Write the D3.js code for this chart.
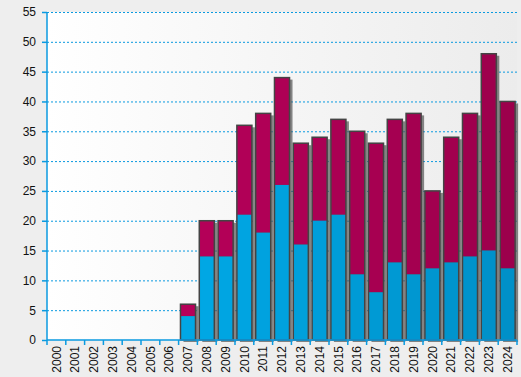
<!DOCTYPE html>
<html>
<head>
  <meta charset="UTF-8">
  <script src="https://d3js.org/d3.v7.min.js"></script>
  <style>
    body { margin: 0; background: #eeeeee; }
    text { font-family: "Liberation Sans", Arial, sans-serif; font-size: 12px; fill: #111; }
  </style>
</head>
<body>
  <svg width="521" height="377" id="chart"></svg>
  <script>
    // data
    let years = ["2000","2001","2002","2003","2004","2005","2006","2007","2008","2009","2010","2011","2012",
                 "2013","2014","2015","2016","2017","2018","2019","2020","2021","2022","2023","2024"];
    let blueVals = [0,0,0,0,0,0,0,4,14,14,21,18,26,16,20,21,11,8,13,11,12,13,14,15,12];
    let totals   = [0,0,0,0,0,0,0,6,20,20,36,38,44,33,34,37,35,33,37,38,25,34,38,48,40];
    let yTicks = [0,5,10,15,20,25,30,35,40,45,50,55];

    let margin = { top: 12, right: 4, bottom: 37, left: 47 };
    let svg = d3.select("#chart");
    let width = +svg.attr("width") - margin.left - margin.right;
    let height = +svg.attr("height") - margin.top - margin.bottom;

    let defs = svg.append("defs");
    let bg = defs.append("linearGradient").attr("id", "bg");
    bg.append("stop").attr("offset", "0%").attr("stop-color", "#ffffff");
    bg.append("stop").attr("offset", "100%").attr("stop-color", "#ececec");

    let shadow = defs.append("filter").attr("id", "shadow")
      .attr("x", "-20%").attr("y", "-20%").attr("width", "160%").attr("height", "140%");
    shadow.append("feDropShadow").attr("dx", 3).attr("dy", 2).attr("stdDeviation", 0.6)
      .attr("flood-color", "#555").attr("flood-opacity", 0.7);

    let x = d3.scaleBand().domain(years).range([0, width]).paddingInner(0.2).paddingOuter(0.1);
    let y = d3.scaleLinear().domain([0, 55]).range([height, 0]);

    let blueC = d3.scaleLinear().domain([0, years.length - 1]).range(["#00b2f2", "#0090c8"]);
    let redC = d3.scaleLinear().domain([0, years.length - 1]).range(["#c0005e", "#9c004c"]);

    let g = svg.append("g").attr("transform", `translate(${margin.left},${margin.top})`);

    g.append("rect").attr("width", width).attr("height", height).attr("fill", "url(#bg)");

    // grid
    g.append("g")
      .call(d3.axisLeft(y).tickValues(yTicks.slice(1)).tickSize(-width).tickFormat(""))
      .call(s => s.select(".domain").remove())
      .selectAll("line")
      .attr("stroke", "#0a9ae0").attr("stroke-dasharray", "2,2");

    // bars
    let bars = g.selectAll(".bar")
      .data(years.map((d, i) => ({ year: d, i: i, blue: blueVals[i], total: totals[i] })).filter(d => d.total > 0))
      .join("g").attr("class", "bar");

    bars.append("rect")
      .attr("x", d => x(d.year))
      .attr("y", d => y(d.total))
      .attr("width", x.bandwidth())
      .attr("height", d => y(0) - y(d.total))
      .attr("fill", "#555")
      .attr("filter", "url(#shadow)");

    bars.append("rect")
      .attr("x", d => x(d.year))
      .attr("y", d => y(d.total))
      .attr("width", x.bandwidth())
      .attr("height", d => y(d.blue) - y(d.total))
      .attr("fill", d => redC(d.i));

    bars.append("rect")
      .attr("x", d => x(d.year))
      .attr("y", d => y(d.blue))
      .attr("width", x.bandwidth())
      .attr("height", d => y(0) - y(d.blue))
      .attr("fill", d => blueC(d.i));

    bars.append("rect")
      .attr("x", d => x(d.year))
      .attr("y", d => y(d.total))
      .attr("width", x.bandwidth())
      .attr("height", d => y(0) - y(d.total))
      .attr("fill", "none")
      .attr("stroke", "#444")
      .attr("stroke-width", 1.5);

    // axes
    let yAxis = g.append("g").call(d3.axisLeft(y).tickValues(yTicks).tickSize(5).tickPadding(6));
    yAxis.selectAll("line, path").attr("stroke", "#0a9ae0").attr("stroke-width", 1.5);
    yAxis.select(".domain").attr("d", `M0,${height}V0`);
    yAxis.selectAll("text").attr("font-size", 12).attr("fill", "#111");

    let xAxis = g.append("g").attr("transform", `translate(0,${height})`)
      .call(d3.axisBottom(x).tickSize(0).tickPadding(0));
    xAxis.select(".domain").attr("stroke", "#0a9ae0").attr("stroke-width", 1.5).attr("d", `M0,0H${width}`);
    xAxis.selectAll("text")
      .attr("transform", "rotate(-90)")
      .attr("x", -6).attr("y", 0).attr("dy", "0.35em")
      .attr("text-anchor", "end")
      .attr("font-size", 12).attr("fill", "#111");

    // boundary ticks between categories
    g.append("g").attr("transform", `translate(0,${height})`)
      .selectAll("line")
      .data(d3.range(years.length + 1))
      .join("line")
      .attr("x1", i => i * x.step()).attr("x2", i => i * x.step())
      .attr("y1", 0).attr("y2", 5)
      .attr("stroke", "#0a9ae0").attr("stroke-width", 1.5);
  </script>
</body>
</html>
